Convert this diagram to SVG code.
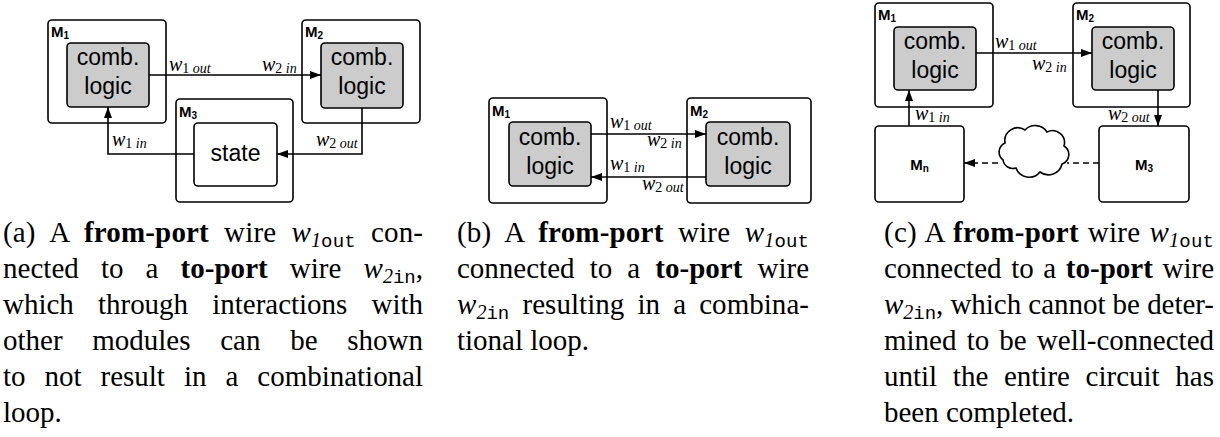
<svg xmlns="http://www.w3.org/2000/svg" width="1220" height="437" viewBox="0 0 1220 437">
<style>
.box{fill:#fff;stroke:#000;stroke-width:1.6}
.inner{fill:#cccccc;stroke:#000;stroke-width:1.6}
.wire{fill:none;stroke:#000;stroke-width:1.6}
.dash{stroke-dasharray:6 4}
.lbl{font-family:"Liberation Sans",Arial,sans-serif;font-size:23px;text-anchor:middle;fill:#000}
.ml{font-family:"Liberation Sans",Arial,sans-serif;font-weight:bold;font-size:15px;fill:#000}
.mls{font-size:10px}
.w{font-family:"Liberation Serif","Times New Roman",serif;font-size:20px;font-style:italic;fill:#000}
.ws{font-size:14px;font-style:normal}
.wi{font-size:14px;font-style:italic}
.cap{font-family:"Liberation Serif","Times New Roman",serif;font-size:29px;fill:#000}
.b{font-weight:bold}
.i{font-style:italic}
.si{font-style:italic;font-size:20px}
.tt{font-family:"Liberation Mono","Courier New",monospace;font-size:19px}
</style>
<defs>
<marker id="ah" markerUnits="userSpaceOnUse" markerWidth="12" markerHeight="8" refX="11" refY="4" orient="auto">
<path d="M0,0 L11,4 L0,8 z" fill="#000"/>
</marker>
</defs>

<!-- Panel (a) -->
<g id="a-M1">
<rect class="box" x="48" y="20" width="118" height="103" rx="4"/>
<text class="ml" x="51" y="37">M<tspan class="mls" dy="2">1</tspan></text>
<rect class="inner" x="67" y="43" width="82" height="64" rx="4"/>
<text class="lbl" x="108" y="65">comb.</text>
<text class="lbl" x="108" y="94">logic</text>
</g>
<g id="a-M2">
<rect class="box" x="302" y="20" width="118" height="103" rx="4"/>
<text class="ml" x="305" y="37">M<tspan class="mls" dy="2">2</tspan></text>
<rect class="inner" x="321" y="43" width="82" height="65" rx="4"/>
<text class="lbl" x="362" y="65">comb.</text>
<text class="lbl" x="362" y="94">logic</text>
</g>
<g id="a-M3">
<rect class="box" x="176" y="99" width="117" height="103" rx="4"/>
<text class="ml" x="179" y="117">M<tspan class="mls" dy="2">3</tspan></text>
<rect class="box" x="194" y="123" width="83" height="63" rx="4"/>
<text class="lbl" x="235.5" y="161">state</text>
</g>

<!-- Panel (b) -->
<g id="b-M1">
<rect class="box" x="489" y="98" width="118" height="105" rx="4"/>
<text class="ml" x="492" y="116">M<tspan class="mls" dy="2">1</tspan></text>
<rect class="inner" x="509" y="122" width="82" height="64" rx="4"/>
<text class="lbl" x="550" y="145">comb.</text>
<text class="lbl" x="550" y="174">logic</text>
</g>
<g id="b-M2">
<rect class="box" x="687" y="98" width="124" height="105" rx="4"/>
<text class="ml" x="690" y="116">M<tspan class="mls" dy="2">2</tspan></text>
<rect class="inner" x="706" y="122" width="84" height="64" rx="4"/>
<text class="lbl" x="748" y="145">comb.</text>
<text class="lbl" x="748" y="174">logic</text>
</g>

<!-- Panel (c) -->
<g id="c-M1">
<rect class="box" x="875" y="3" width="118" height="104" rx="4"/>
<text class="ml" x="878" y="20">M<tspan class="mls" dy="2">1</tspan></text>
<rect class="inner" x="894" y="27" width="82" height="63" rx="4"/>
<text class="lbl" x="935" y="49">comb.</text>
<text class="lbl" x="935" y="78">logic</text>
</g>
<g id="c-M2">
<rect class="box" x="1073" y="3" width="117" height="104" rx="4"/>
<text class="ml" x="1076" y="20">M<tspan class="mls" dy="2">2</tspan></text>
<rect class="inner" x="1092" y="27" width="82" height="63" rx="4"/>
<text class="lbl" x="1133" y="49">comb.</text>
<text class="lbl" x="1133" y="78">logic</text>
</g>
<g id="c-Mn">
<rect class="box" x="875" y="126" width="89" height="76" rx="4"/>
<text class="ml" x="919.5" y="170" text-anchor="middle">M<tspan class="mls" dy="2">n</tspan></text>
</g>
<g id="c-M3">
<rect class="box" x="1099" y="126" width="90" height="76" rx="4"/>
<text class="ml" x="1144" y="170" text-anchor="middle">M<tspan class="mls" dy="2">3</tspan></text>
</g>
<g id="c-cloud">
<path class="box" d="M1003,160 a10,10 0 0 1 2,-17 a13,13 0 0 1 20,-13 a14,14 0 0 1 22,2 a12,12 0 0 1 17,14 a10,10 0 0 1 -2,18 a14,14 0 0 1 -22,8 a14,14 0 0 1 -24,-4 a10,10 0 0 1 -13,-8 z"/>
</g>

<g id="connectors">
<path class="wire" d="M149,75 H321" marker-end="url(#ah)"/>
<path class="wire" d="M362,108 V154 H277" marker-end="url(#ah)"/>
<path class="wire" d="M194,154 H108 V107" marker-end="url(#ah)"/>
<path class="wire" d="M591,134 H706" marker-end="url(#ah)"/>
<path class="wire" d="M706,177 H591" marker-end="url(#ah)"/>
<path class="wire" d="M976,53 H1092" marker-end="url(#ah)"/>
<path class="wire" d="M909,126 V90" marker-end="url(#ah)"/>
<path class="wire" d="M1158,90 V126" marker-end="url(#ah)"/>
<path class="wire dash" d="M1099,163 H1067"/>
<path class="wire dash" d="M998,163 H964" marker-end="url(#ah)"/>
</g>

<g id="wire-labels">
<text class="w" x="169" y="71">w<tspan class="ws" dy="2">1 </tspan><tspan class="wi">out</tspan></text>
<text class="w" x="262" y="71">w<tspan class="ws" dy="2">2 </tspan><tspan class="wi">in</tspan></text>
<text class="w" x="112" y="146">w<tspan class="ws" dy="2">1 </tspan><tspan class="wi">in</tspan></text>
<text class="w" x="316" y="146">w<tspan class="ws" dy="2">2 </tspan><tspan class="wi">out</tspan></text>
<text class="w" x="610" y="128">w<tspan class="ws" dy="2">1 </tspan><tspan class="wi">out</tspan></text>
<text class="w" x="647" y="146">w<tspan class="ws" dy="2">2 </tspan><tspan class="wi">in</tspan></text>
<text class="w" x="610" y="170">w<tspan class="ws" dy="2">1 </tspan><tspan class="wi">in</tspan></text>
<text class="w" x="642" y="190">w<tspan class="ws" dy="2">2 </tspan><tspan class="wi">out</tspan></text>
<text class="w" x="995" y="48">w<tspan class="ws" dy="2">1 </tspan><tspan class="wi">out</tspan></text>
<text class="w" x="1032" y="70">w<tspan class="ws" dy="2">2 </tspan><tspan class="wi">in</tspan></text>
<text class="w" x="915" y="120">w<tspan class="ws" dy="2">1 </tspan><tspan class="wi">in</tspan></text>
<text class="w" x="1108" y="120">w<tspan class="ws" dy="2">2 </tspan><tspan class="wi">out</tspan></text>
</g>

<g id="caption-a">
<text class="cap" x="3" y="242" textLength="420" word-spacing="7.8">(a) A <tspan class="b">from-port</tspan> wire <tspan class="i">w</tspan><tspan class="si" dy="5">1</tspan><tspan class="tt">out</tspan><tspan dy="-5"> con-</tspan></text>
<text class="cap" x="3" y="278" textLength="420" word-spacing="14.8">nected to a <tspan class="b">to-port</tspan> wire <tspan class="i">w</tspan><tspan class="si" dy="5">2</tspan><tspan class="tt">in</tspan><tspan dy="-5">,</tspan></text>
<text class="cap" x="3" y="314" textLength="420" word-spacing="17">which through interactions with</text>
<text class="cap" x="3" y="350" textLength="420" word-spacing="22.5">other modules can be shown</text>
<text class="cap" x="3" y="386" textLength="420" word-spacing="11.8">to not result in a combinational</text>
<text class="cap" x="3" y="422">loop.</text>
</g>

<g id="caption-b">
<text class="cap" x="457" y="242" textLength="352" word-spacing="7">(b) A <tspan class="b">from-port</tspan> wire <tspan class="i">w</tspan><tspan class="si" dy="5">1</tspan><tspan class="tt">out</tspan></text>
<text class="cap" x="457" y="278" textLength="352" word-spacing="7.9">connected to a <tspan class="b">to-port</tspan> wire</text>
<text class="cap" x="457" y="314" textLength="352" word-spacing="5.8"><tspan class="i">w</tspan><tspan class="si" dy="5">2</tspan><tspan class="tt">in</tspan><tspan dy="-5"> resulting in a combina-</tspan></text>
<text class="cap" x="457" y="350">tional loop.</text>
</g>

<g id="caption-c">
<text class="cap" x="884" y="242" textLength="330" word-spacing="1.5">(c) A <tspan class="b">from-port</tspan> wire <tspan class="i">w</tspan><tspan class="si" dy="5">1</tspan><tspan class="tt">out</tspan></text>
<text class="cap" x="884" y="278" textLength="330" word-spacing="2.4">connected to a <tspan class="b">to-port</tspan> wire</text>
<text class="cap" x="884" y="314" textLength="330"><tspan class="i">w</tspan><tspan class="si" dy="5">2</tspan><tspan class="tt">in</tspan><tspan dy="-5">, which cannot be deter-</tspan></text>
<text class="cap" x="884" y="350" textLength="330" word-spacing="2.9">mined to be well-connected</text>
<text class="cap" x="884" y="386" textLength="330" word-spacing="8.4">until the entire circuit has</text>
<text class="cap" x="884" y="422">been completed.</text>
</g>
</svg>
